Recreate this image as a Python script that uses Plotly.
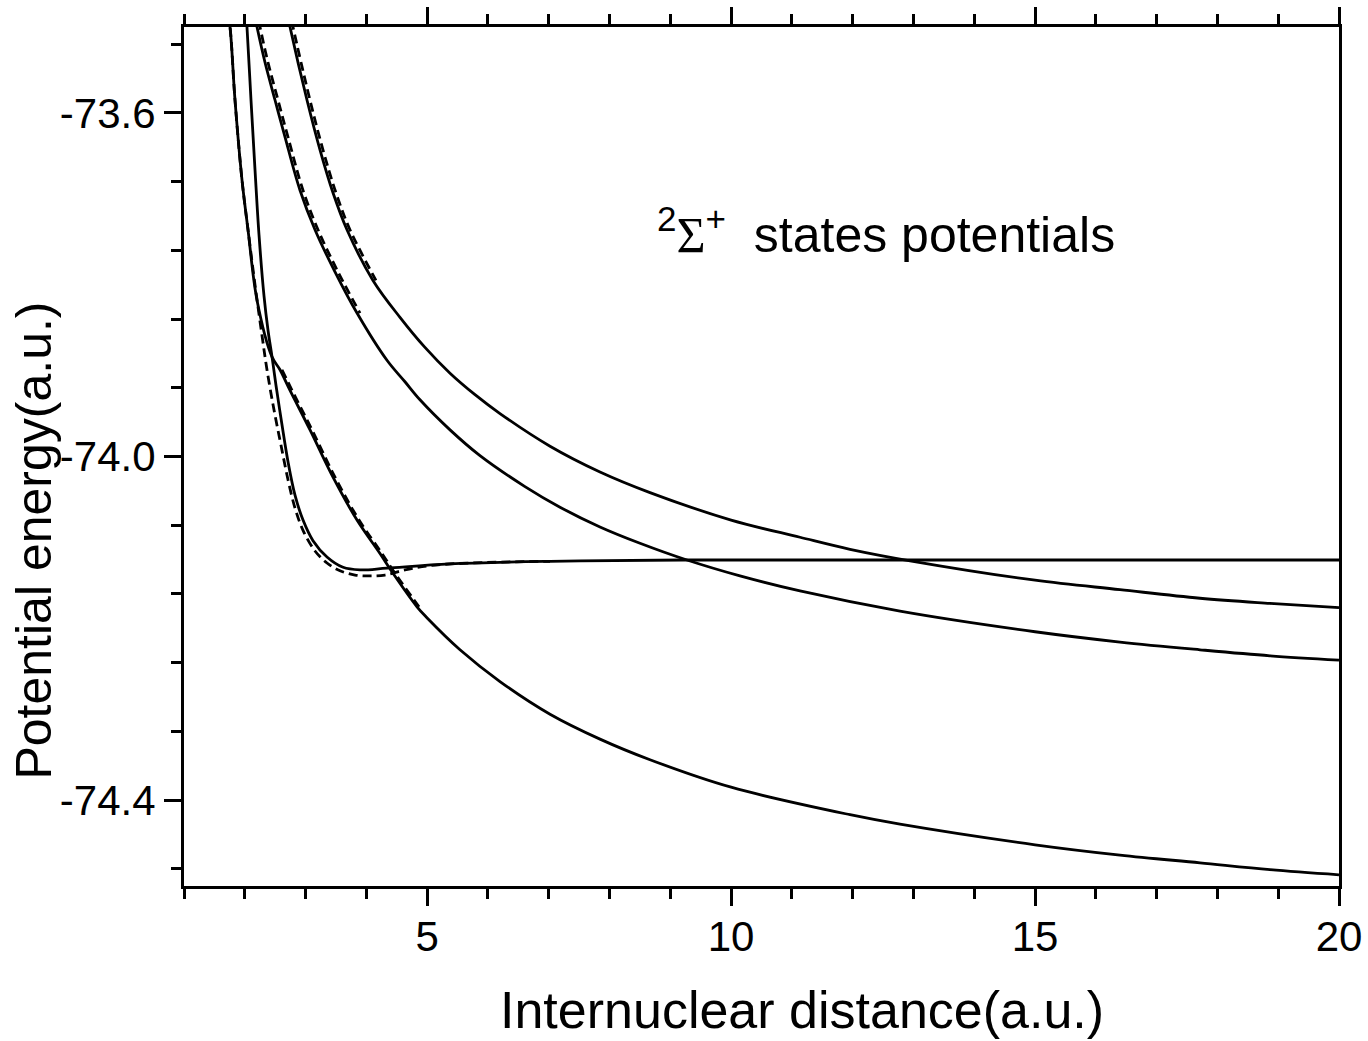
import plotly.graph_objects as go

# ---- data ----
# solid curves
t1_x = [1.691, 1.757, 1.839, 1.954, 2.053, 2.201, 2.448, 2.579, 2.744, 3.073, 3.451, 3.846, 4.224, 4.438, 4.833, 5.0, 5.540, 6.198, 7.021, 7.843, 8.666, 10.0, 11.956, 12.778, 15.0, 16.397, 17.713, 18.865, 20.0]
t1_y = [-73.469, -73.5, -73.585, -73.678, -73.736, -73.818, -73.884, -73.899, -73.923, -73.969, -74.024, -74.074, -74.113, -74.136, -74.175, -74.188, -74.225, -74.262, -74.300, -74.329, -74.353, -74.385, -74.417, -74.428, -74.452, -74.464, -74.473, -74.481, -74.487]

t2_x = [2.003, 2.036, 2.102, 2.168, 2.234, 2.316, 2.382, 2.448, 2.513, 2.612, 2.711, 2.826, 2.958, 3.122, 3.352, 3.616, 3.895, 4.339, 5.376, 7.021, 9.209, 20.0]
t2_y = [-73.469, -73.5, -73.585, -73.666, -73.742, -73.813, -73.853, -73.884, -73.917, -73.963, -74.006, -74.045, -74.074, -74.098, -74.117, -74.129, -74.132, -74.130, -74.125, -74.122, -74.1205, -74.1205]

t3_x = [2.135, 2.201, 2.332, 2.497, 2.661, 2.908, 3.155, 3.484, 3.846, 4.339, 4.635, 4.882, 5.376, 5.869, 6.609, 7.185, 7.843, 8.501, 9.274, 10.146, 11.133, 12.778, 15.0, 16.397, 17.713, 18.865, 20.0]
t3_y = [-73.477, -73.5, -73.541, -73.585, -73.628, -73.690, -73.736, -73.785, -73.833, -73.888, -73.913, -73.934, -73.969, -73.999, -74.035, -74.059, -74.082, -74.101, -74.1205, -74.139, -74.1565, -74.180, -74.204, -74.216, -74.225, -74.232, -74.237]

t4_x = [2.678, 2.744, 3.023, 3.237, 3.451, 3.681, 4.109, 4.553, 4.964, 5.376, 5.787, 6.198, 7.021, 7.843, 8.666, 10.0, 11.133, 11.956, 12.992, 15.0, 16.397, 17.713, 18.865, 20.0]
t4_y = [-73.477, -73.5, -73.585, -73.643, -73.693, -73.736, -73.795, -73.838, -73.873, -73.903, -73.928, -73.950, -73.988, -74.018, -74.042, -74.074, -74.094, -74.108, -74.122, -74.144, -74.155, -74.165, -74.171, -74.176]

# dashed curves
d1_x = [1.691, 1.757, 1.839, 1.954, 2.053, 2.168, 2.283, 2.365, 2.481, 2.596, 2.711, 2.826, 2.958, 3.155, 3.352, 3.566, 3.813, 4.060, 4.306, 4.635, 5.047, 5.705, 7.021]
d1_y = [-73.469, -73.5, -73.585, -73.678, -73.736, -73.800, -73.859, -73.899, -73.946, -73.987, -74.027, -74.060, -74.086, -74.110, -74.124, -74.133, -74.138, -74.139, -74.138, -74.132, -74.127, -74.124, -74.122]

d2_x = [2.612, 2.777, 3.106, 3.484, 3.879, 4.257, 4.471, 4.866]
d2_y = [-73.899, -73.923, -73.969, -74.024, -74.074, -74.113, -74.136, -74.175]

d3_x = [2.184, 2.250, 2.381, 2.546, 2.710, 2.957, 3.204, 3.533, 3.895]
d3_y = [-73.477, -73.5, -73.541, -73.585, -73.628, -73.690, -73.736, -73.785, -73.833]

d4_x = [2.727, 2.793, 3.072, 3.286, 3.500, 3.730, 4.158]
d4_y = [-73.477, -73.5, -73.585, -73.643, -73.693, -73.736, -73.795]

x_tickvals = [5, 10, 15, 20]
y_tickvals = [-74.4, -74.0, -73.6]
y_ticktext = ["-74.4", "-74.0", "-73.6"]

FONT = "Liberation Sans, Arial, sans-serif"

fig = go.Figure()
for xs, ys in [(t1_x, t1_y), (t2_x, t2_y), (t3_x, t3_y), (t4_x, t4_y)]:
    fig.add_trace(go.Scatter(x=xs, y=ys, mode="lines",
                             line=dict(color="black", width=2.8, shape="spline", smoothing=1.0),
                             showlegend=False, hoverinfo="skip"))
for xs, ys in [(d1_x, d1_y), (d2_x, d2_y), (d3_x, d3_y), (d4_x, d4_y)]:
    fig.add_trace(go.Scatter(x=xs, y=ys, mode="lines",
                             line=dict(color="black", width=2.8, dash="9px,5px", shape="spline", smoothing=1.0),
                             showlegend=False, hoverinfo="skip"))

fig.update_layout(
    width=1368, height=1041,
    margin=dict(l=184, r=29, t=27, b=155),
    paper_bgcolor="white", plot_bgcolor="white",
    font=dict(family=FONT, color="black"),
    showlegend=False,
)
fig.update_xaxes(
    range=[1, 20], tickvals=x_tickvals, ticktext=[str(v) for v in x_tickvals],
    showgrid=False, zeroline=False, automargin=False,
    showline=True, linecolor="black", linewidth=3, mirror="ticks",
    ticks="outside", ticklen=17, tickwidth=3, tickcolor="black",
    ticklabelstandoff=-5,
    tickfont=dict(size=42, family=FONT, color="black"),
    minor=dict(dtick=1, tick0=0, ticks="outside", ticklen=10, tickwidth=3, tickcolor="black", showgrid=False),
)
fig.update_yaxes(
    range=[-74.5, -73.5], tickvals=y_tickvals, ticktext=y_ticktext,
    showgrid=False, zeroline=False, automargin=False,
    showline=True, linecolor="black", linewidth=3, mirror=True,
    ticks="outside", ticklen=17, tickwidth=3, tickcolor="black",
    ticklabelstandoff=0,
    tickfont=dict(size=42, family=FONT, color="black"),
    minor=dict(dtick=0.08, tick0=-73.6, ticks="outside", ticklen=10, tickwidth=3, tickcolor="black", showgrid=False),
)

fig.add_annotation(text="Internuclear distance(a.u.)", xref="paper", yref="paper",
                   x=0.5351, y=-0.1440, xanchor="center", yanchor="middle", showarrow=False,
                   font=dict(size=52, family=FONT, color="black"))
fig.add_annotation(text="Potential energy(a.u.)", xref="paper", yref="paper",
                   x=-0.1307, y=0.4022, xanchor="center", yanchor="middle", textangle=-90, showarrow=False,
                   font=dict(size=50, family=FONT, color="black"))
fig.add_annotation(text="<sup>2</sup><span style=\"font-family:Liberation Serif\">\u03a3</span><sup>+</sup>\u00a0\u00a0states potentials",
                   xref="paper", yref="paper", x=0.6078, y=0.7625, xanchor="center", yanchor="middle",
                   showarrow=False, font=dict(size=50, family=FONT, color="black"))

fig.write_html("out.html")
